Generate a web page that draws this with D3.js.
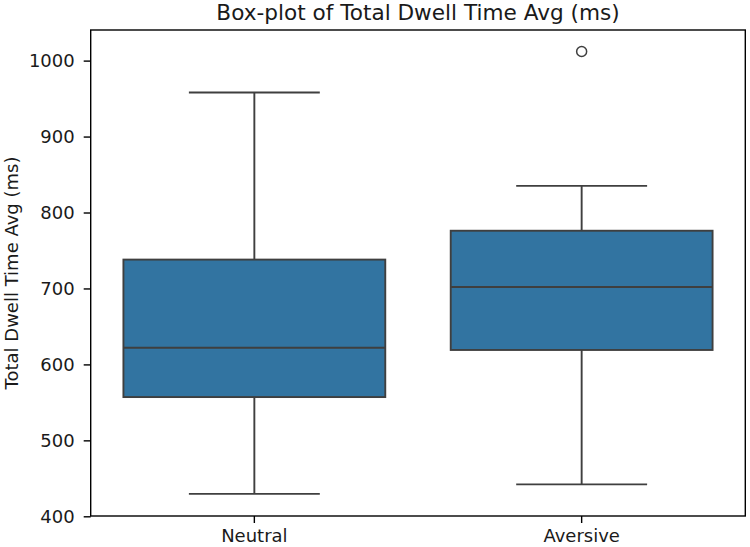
<!DOCTYPE html>
<html>
<head>
<meta charset="utf-8">
<script src="https://cdn.jsdelivr.net/npm/d3@7"></script>
<style>
  html, body { margin: 0; padding: 0; background: #fff; }
  svg { display: block; font-family: "DejaVu Sans", sans-serif; }
</style>
</head>
<body>
<svg id="chart" width="750" height="547"></svg>
<script>
// ---- Data ----
const categories = ["Neutral", "Aversive"];
const whiskerLow  = [429.5, 442];
const q1          = [557, 619];
const medians     = [622, 702];
const q3          = [738, 776];
const whiskerHigh = [958, 835];
const outliers    = [[], [1012]];
const yTicks      = [400, 500, 600, 700, 800, 900, 1000];

const title  = "Box-plot of Total Dwell Time Avg (ms)";
const yLabel = "Total Dwell Time Avg (ms)";

// ---- Layout ----
const W = 750, H = 547;
const m = { left: 90.7, right: 4.7, top: 30, bottom: 31 };
const iw = W - m.left - m.right, ih = H - m.top - m.bottom;

const svg = d3.select("#chart");
const g = svg.append("g").attr("transform", `translate(${m.left},${m.top})`);

const x = d3.scaleBand().domain(categories).range([0, iw]).paddingInner(0).paddingOuter(0);
const y = d3.scaleLinear().domain([400.4, 1040.3]).range([ih, 0]);

const boxW = x.bandwidth() * 0.8;
const capW = boxW / 2;
const lineColor = "#3f3f3f";
const fill = "#3274a1";
const lw = 1.9;

const data = categories.map((c, i) => ({
  c, lo: whiskerLow[i], q1: q1[i], med: medians[i], q3: q3[i], hi: whiskerHigh[i], out: outliers[i]
}));

const grp = g.selectAll("g.box").data(data).enter().append("g")
  .attr("class", "box")
  .attr("transform", d => `translate(${x(d.c) + x.bandwidth() / 2},0)`);

// whiskers
grp.append("line").attr("x1", 0).attr("x2", 0)
  .attr("y1", d => y(d.hi)).attr("y2", d => y(d.q3))
  .attr("stroke", lineColor).attr("stroke-width", lw);
grp.append("line").attr("x1", 0).attr("x2", 0)
  .attr("y1", d => y(d.q1)).attr("y2", d => y(d.lo))
  .attr("stroke", lineColor).attr("stroke-width", lw);
// caps
grp.append("line").attr("x1", -capW / 2).attr("x2", capW / 2)
  .attr("y1", d => y(d.hi)).attr("y2", d => y(d.hi))
  .attr("stroke", lineColor).attr("stroke-width", lw);
grp.append("line").attr("x1", -capW / 2).attr("x2", capW / 2)
  .attr("y1", d => y(d.lo)).attr("y2", d => y(d.lo))
  .attr("stroke", lineColor).attr("stroke-width", lw);
// box
grp.append("rect").attr("x", -boxW / 2).attr("width", boxW)
  .attr("y", d => y(d.q3)).attr("height", d => y(d.q1) - y(d.q3))
  .attr("fill", fill).attr("stroke", lineColor).attr("stroke-width", lw);
// median
grp.append("line").attr("x1", -boxW / 2).attr("x2", boxW / 2)
  .attr("y1", d => y(d.med)).attr("y2", d => y(d.med))
  .attr("stroke", lineColor).attr("stroke-width", lw);
// outliers
grp.selectAll("circle").data(d => d.out).enter().append("circle")
  .attr("cx", 0).attr("cy", v => y(v)).attr("r", 5)
  .attr("fill", "none").attr("stroke", lineColor).attr("stroke-width", 1.5);

// ---- Axes ----
const yAxis = g.append("g").call(d3.axisLeft(y).tickValues(yTicks).tickFormat(d3.format("d"))
  .tickSize(7).tickPadding(9).tickSizeOuter(0));
const xAxis = g.append("g").attr("transform", `translate(0,${ih})`)
  .call(d3.axisBottom(x).tickSize(7).tickPadding(5).tickSizeOuter(0));
[yAxis, xAxis].forEach(a => {
  a.select(".domain").remove();
  a.selectAll(".tick line").attr("stroke", "#000").attr("stroke-width", 1.4);
  a.selectAll(".tick text").attr("fill", "#1a1a1a").style("font-size", "18px").style("font-family", "DejaVu Sans, sans-serif");
});
xAxis.selectAll(".tick text").attr("dy", "0.76em");

// frame (spines)
g.append("rect").attr("x", 0).attr("y", 0).attr("width", iw).attr("height", ih)
  .attr("fill", "none").attr("stroke", "#000").attr("stroke-width", 1.4);

// title
svg.append("text").attr("x", m.left + iw / 2).attr("y", 20)
  .attr("text-anchor", "middle").attr("fill", "#1a1a1a")
  .style("font-size", "21.6px").text(title);

// y label
svg.append("text")
  .attr("transform", `translate(17.5,${m.top + ih / 2}) rotate(-90)`)
  .attr("text-anchor", "middle").attr("fill", "#1a1a1a")
  .style("font-size", "18px").text(yLabel);
</script>
</body>
</html>
